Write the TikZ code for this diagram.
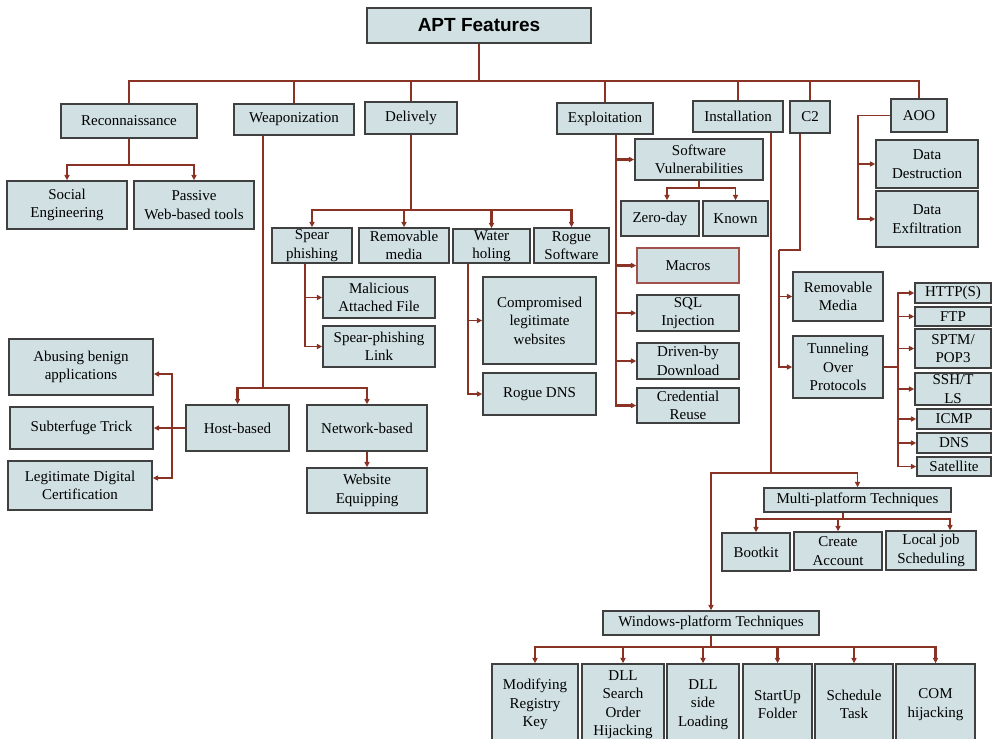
\documentclass[tikz,border=0pt]{standalone}
\usepackage{fontspec}
\setmainfont{Liberation Serif}
\newfontfamily\titlefont{Liberation Sans}
\usetikzlibrary{arrows.meta}
\definecolor{boxfill}{HTML}{D0E0E3}
\definecolor{boxline}{HTML}{404040}
\definecolor{wire}{HTML}{8A3324}
\definecolor{redline}{HTML}{A0524A}
\tikzset{
  box/.style={draw=boxline, fill=boxfill, line width=1.3bp, inner sep=1bp, align=center,
    font=\fontsize{15bp}{18.5bp}\selectfont},
  titlebox/.style={font=\titlefont\bfseries\fontsize{19bp}{22bp}\selectfont},
  wline/.style={draw=wire, line width=1.5bp},
  heavy/.style={line width=2.1bp},
  arr/.style={wline, -{Triangle[length=5.5bp,width=5bp]}},
}
\newcommand\bx[7][]{%
  \node[box,#1,minimum width={(#5-#3)*1bp},minimum height={(#6-#4)*1bp}] (#2) at ({(#3+#5)/2},{(#4+#6)/2}) {#7};}
\begin{document}
\begin{tikzpicture}[x=1bp,y=-1bp]
\useasboundingbox (0,0) rectangle (992,739);
\fill[white] (0,0) rectangle (992,739);
\clip (0,0) rectangle (992,739);
% ---------- boxes ----------
\bx[titlebox]{apt}{367}{8}{591}{43}{APT Features}
\bx{recon}{61}{104}{197}{138}{Reconnaissance}
\bx{weap}{234}{104}{354}{135}{Weaponization}
\bx{deliv}{365}{102}{457}{134}{Delively}
\bx{exp}{557}{103}{653}{134}{Exploitation}
\bx{inst}{693}{101}{783}{132}{Installation}
\bx{c2}{790}{101}{830}{133}{C2}
\bx{aoo}{891}{99}{947}{132}{AOO}
\bx{social}{7}{181}{127}{229}{Social\\Engineering}
\bx{passive}{134}{181}{254}{229}{Passive\\Web-based tools}
\bx{spear}{272}{228}{352}{263}{Spear\\phishing}
\bx{remov}{359}{228}{449}{263}{Removable\\media}
\bx{water}{453}{229}{530}{263}{Water\\holing}
\bx{rogue}{534}{228}{609}{263}{Rogue\\Software}
\bx{mal}{323}{277}{435}{318}{Malicious\\Attached File}
\bx{link}{323}{326}{435}{367}{Spear-phishing\\Link}
\bx{comp}{483}{277}{596}{364}{Compromised\\legitimate\\websites}
\bx{rdns}{483}{373}{596}{415}{Rogue DNS}
\bx{host}{186}{405}{289}{451}{Host-based}
\bx{net}{307}{405}{427}{451}{Network-based}
\bx{web}{307}{468}{427}{513}{Website\\Equipping}
\bx{abuse}{9}{339}{153}{395}{Abusing benign\\applications}
\bx{subt}{10}{407}{153}{449}{Subterfuge Trick}
\bx{legit}{8}{461}{152}{510}{Legitimate Digital\\Certification}
\bx{sv}{635}{139}{763}{180}{Software\\Vulnerabilities}
\bx{zero}{621}{201}{699}{236}{Zero-day}
\bx{known}{703}{201}{768}{236}{Known}
\bx[draw=redline]{macros}{637}{248}{739}{283}{Macros}
\bx{sql}{637}{295}{739}{331}{SQL\\Injection}
\bx{drive}{637}{343}{739}{379}{Driven-by\\Download}
\bx{cred}{637}{388}{739}{423}{Credential\\Reuse}
\bx{dd}{876}{140}{978}{188}{Data\\Destruction}
\bx{de}{876}{191}{978}{247}{Data\\Exfiltration}
\bx{rm}{793}{272}{883}{321}{Removable\\Media}
\bx{tun}{793}{336}{883}{398}{Tunneling\\Over\\Protocols}
\bx{http}{915}{283}{991}{303}{HTTP(S)}
\bx{ftp}{915}{307}{991}{326}{FTP}
\bx{sptm}{915}{329}{991}{368}{SPTM/\\POP3}
\bx{ssh}{915}{373}{991}{405}{SSH/T\\LS}
\bx{icmp}{917}{409}{991}{429}{ICMP}
\bx{dns}{917}{433}{991}{453}{DNS}
\bx{sat}{917}{457}{991}{476}{Satellite}
\bx{multi}{764}{488}{951}{512}{Multi-platform Techniques}
\bx{boot}{722}{533}{790}{571}{Bootkit}
\bx{create}{794}{532}{882}{570}{Create\\Account}
\bx{local}{886}{531}{976}{570}{Local job\\Scheduling}
\bx{win}{603}{611}{819}{635}{Windows-platform Techniques}
\bx{mod}{492}{664}{578}{745}{Modifying\\Registry\\Key}
\bx{dlls}{582}{664}{664}{745}{DLL\\Search\\Order\\Hijacking}
\bx{dllside}{667}{664}{739}{745}{DLL\\side\\Loading}
\bx{start}{743}{664}{812}{745}{StartUp\\Folder}
\bx{sched}{815}{664}{893}{745}{Schedule\\Task}
\bx{com}{896}{664}{975}{745}{COM\\hijacking}
% ---------- connectors ----------
\coordinate (tb) at (479,81);
\foreach \n in {recon,weap,deliv,exp,inst,c2,aoo}
  \draw[wline] (apt.south) -- (tb) -| (\n.north);
% reconnaissance
\coordinate (rj) at (129,165);
\draw[wline,heavy] (recon.south) -- (rj);
\draw[arr,heavy] (rj) -| (social.north);
\draw[arr,heavy] (rj) -| (passive.north);
% weaponization
\coordinate (wj) at (263,388);
\draw[wline] (weap.south -| wj) -- (wj);
\draw[arr,heavy] (wj) -| (host.north);
\draw[arr,heavy] (wj) -| (net.north);
\draw[arr] (net.south) -- (web.north);
\coordinate (hj) at (172,428);
\draw[wline] (host.west) -- (hj);
\draw[arr,heavy] (hj) |- ([yshift=-7bp]abuse.east);
\draw[arr] (hj) -- (subt.east);
\draw[arr,heavy] (hj) |- ([yshift=7.5bp]legit.east);
% delively
\coordinate (dj) at (411,210);
\draw[wline] (deliv.south) -- (dj);
\foreach \n in {spear,remov,water,rogue}
  \draw[arr,heavy] (dj) -| (\n.north);
\coordinate (sj) at (305,0);
\draw[arr] (spear.south -| sj) |- (mal.west);
\draw[arr] (spear.south -| sj) |- (link.west);
\coordinate (whj) at (468,0);
\draw[arr] (water.south -| whj) |- (comp.west);
\draw[arr] (water.south -| whj) |- (rdns.west);
% exploitation
\coordinate (ej) at (616,0);
\foreach \n in {sv,macros,sql,drive,cred}
  \draw[arr,heavy] (exp.south -| ej) |- (\n.west);
\coordinate (svj) at (699,188);
\draw[wline] (sv.south) -- (svj);
\draw[arr] (svj) -| ([xshift=7bp]zero.north);
\draw[arr] (svj) -| (known.north);
% AOO
\coordinate (aj) at (858,0);
\draw[arr] (aoo.west) -- (aoo.west -| aj) |- (dd.west);
\draw[arr] (aoo.west -| aj) |- (de.west);
% C2
\coordinate (cj1) at (800,250);
\coordinate (cj2) at (779,250);
\draw[wline] (c2.south -| cj1) -- (cj1) -- (cj2);
\draw[arr] (cj2) |- (rm.west);
\draw[arr] (cj2) |- (tun.west);
\coordinate (tj) at (898,367);
\draw[wline] (tun.east) -- (tj);
\foreach \n in {http,ftp,sptm,ssh,icmp,dns,sat}
  \draw[arr] (tj) |- (\n.west);
% installation
\coordinate (ij) at (771,473);
\draw[wline] (inst.south -| ij) -- (ij);
\draw[arr] (ij) -| (multi.north);
\draw[arr] (ij) -| (win.north);
\coordinate (mj) at (843,519);
\draw[wline] (multi.south -| mj) -- (mj);
\draw[arr,heavy] (mj) -| (boot.north);
\draw[arr,heavy] (mj) -| (create.north);
\draw[arr,heavy] (mj) -| ([xshift=19bp]local.north);
\coordinate (wpj) at (711,647);
\draw[wline] (win.south) -- (wpj);
\foreach \n in {mod,dlls,dllside,start,sched,com}
  \draw[arr,heavy] (wpj) -| (\n.north);
\end{tikzpicture}
\end{document}
